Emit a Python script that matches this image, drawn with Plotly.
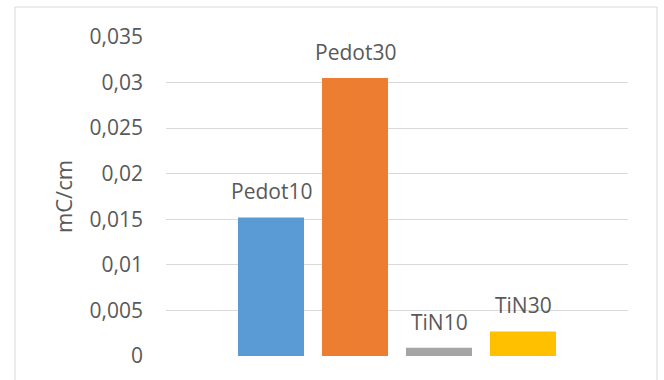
import plotly.graph_objects as go

# Series names and charge values (mC/cm)
samples = ["Pedot10", "Pedot30", "TiN10", "TiN30"]
charge = [0.0152, 0.0305, 0.0009, 0.0027]
colors = ["#5B9BD5", "#ED7D31", "#A5A5A5", "#FFC000"]

# Y-axis ticks with comma decimal separator
tick_vals = [0, 0.005, 0.01, 0.015, 0.02, 0.025, 0.03, 0.035]
tick_text = ["0", "0,005", "0,01", "0,015", "0,02", "0,025", "0,03", "0,035"]

W, H = 664, 380
L, R, T, B = 166, 36, 37, 24
FONT = "Open Sans"
GRAY = "#595959"

fig = go.Figure()
fig.add_trace(go.Bar(
    x=samples,
    y=charge,
    marker=dict(color=colors, line=dict(width=0)),
    hoverinfo="x+y",
))

# Name labels above each bar
for name, val in zip(samples, charge):
    fig.add_annotation(
        x=name, y=val, xref="x", yref="y",
        text=name, showarrow=False,
        yanchor="middle", yshift=26,
        font=dict(family=FONT, size=21, color=GRAY),
    )

# Light chart-area frame
pw, ph = W - L - R, H - T - B
fig.add_shape(
    type="rect", xref="paper", yref="paper",
    x0=(15 - L) / pw, x1=(657 - L) / pw,
    y0=-(400 - (H - B)) / ph, y1=1 + (T - 7) / ph,
    line=dict(color="#D9D9D9", width=1), fillcolor="rgba(0,0,0,0)",
    layer="below",
)

fig.update_layout(
    width=W, height=H,
    margin=dict(l=L, r=R, t=T, b=B, pad=0),
    paper_bgcolor="white", plot_bgcolor="white",
    showlegend=False,
    bargap=0.214,
    font=dict(family=FONT, color=GRAY),
    xaxis=dict(
        type="category",
        range=[-1.25, 4.25],
        showticklabels=False, showgrid=False, zeroline=False,
        showline=False, ticks="", fixedrange=True,
    ),
    yaxis=dict(
        range=[0, 0.035],
        tickvals=tick_vals, ticktext=tick_text,
        tickfont=dict(family=FONT, size=21, color=GRAY),
        showgrid=True, gridcolor="#D9D9D9", gridwidth=1,
        zeroline=False, showline=False, ticks="",
        ticklabelstandoff=22,
        title=dict(text="mC/cm", font=dict(family=FONT, size=22, color=GRAY), standoff=10),
        automargin=False,
    ),
)

fig.write_html("out.html")
